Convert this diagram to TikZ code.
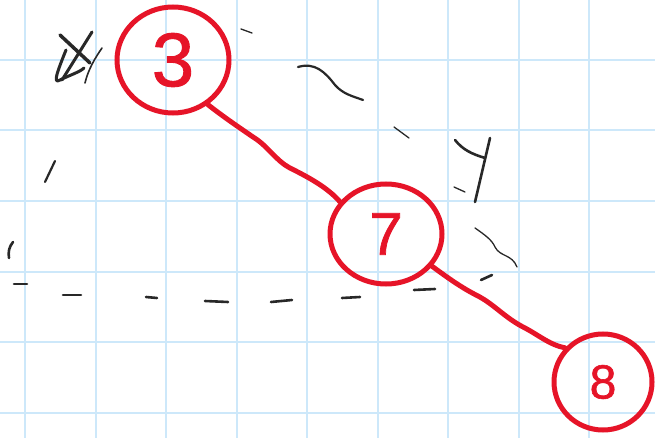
\documentclass[tikz,border=0pt]{standalone}
\usepackage{fontspec}
\newfontfamily\handfont[FakeBold=1.2]{Liberation Sans}
\usetikzlibrary{shapes.geometric}
\definecolor{gridblue}{RGB}{205,232,250}
\definecolor{penred}{RGB}{230,20,40}
\definecolor{pen}{RGB}{40,40,40}
\begin{document}
\begin{tikzpicture}[x=1pt,y=-1pt,
  gridline/.style={draw=gridblue,line width=2pt},
  circ/.style={ellipse,draw=penred,line width=5pt,inner sep=0pt,text=penred},
  redline/.style={draw=penred,line width=5pt,line cap=round,line join=round},
  ink/.style={draw=pen,line width=2.6pt,line cap=round,line join=round},
  thinink/.style={draw=pen,line width=1.3pt,line cap=round}]
\fill[white] (0,0) rectangle (655,438);
\useasboundingbox (0,0) rectangle (655,438);
% grid
\foreach \i in {0,...,8} \draw[gridline] ({25+70.5*\i},0) -- ({25+70.5*\i},438);
\foreach \j in {0,...,5} \draw[gridline] (0,{60+70.5*\j}) -- (655,{60+70.5*\j});
% black strokes
\draw[ink,line width=3.5pt] (60,35) -- (90,63);
\draw[ink,line width=3pt] (92,32) -- (62,80);
\draw[ink,line width=3pt] (66,50) .. controls (58,70) and (52,85) .. (60,80) .. controls (70,75) and (80,72) .. (84,68);
\draw[ink,line width=1.6pt] (102,48) .. controls (95,58) and (88,70) .. (85,83);
\draw[thinink] (241,29) -- (252,33);
\draw[ink,line width=2.2pt] (298,67) .. controls (315,62) and (325,72) .. (335,85) .. controls (343,94) and (352,96) .. (363,100);
\draw[thinink] (394,127) -- (409,138);
\draw[ink] (455,140) .. controls (463,150) and (472,154) .. (485,158);
\draw[ink] (490,138) -- (475,202);
\draw[thinink] (454,187) -- (465,192);
\draw[ink,line width=2.2pt] (55,161) -- (45,182);
\draw[ink] (13,242) .. controls (9,247) and (8,252) .. (9,258);
\draw[thinink] (475,228) .. controls (485,235) and (492,240) .. (495,247) .. controls (500,257) and (512,254) .. (517,267);
\foreach \a/\b/\c/\d in {14/284/27/284, 63/295/81/295, 146/297/157/298, 205/301/228/302, 271/302/292/300, 342/298/360/297, 414/290/435/289, 481/280/492/275}
  \draw[ink] (\a,\b) -- (\c,\d);
% nodes
\node[circ,minimum width=112pt,minimum height=106pt,font=\handfont\fontsize{76}{76}\selectfont] (n3) at (173,60) {3};
\node[circ,minimum width=112pt,minimum height=100pt,font=\handfont\fontsize{60}{60}\selectfont] (n7) at (386,234) {7};
\node[circ,minimum width=98pt,minimum height=96pt,font=\handfont\fontsize{48}{48}\selectfont] (n8) at (603,382) {8};
% connectors
\draw[redline] (n3.-52) .. controls (225,118) and (240,128) .. (253,137) .. controls (268,146) and (275,160) .. (290,168) .. controls (310,178) and (328,188) .. (n7.145);
\draw[redline] (n7.-35) .. controls (448,278) and (462,288) .. (478,296) .. controls (495,305) and (505,318) .. (525,328) .. controls (540,336) and (550,345) .. (n8.138);
\end{tikzpicture}
\end{document}
